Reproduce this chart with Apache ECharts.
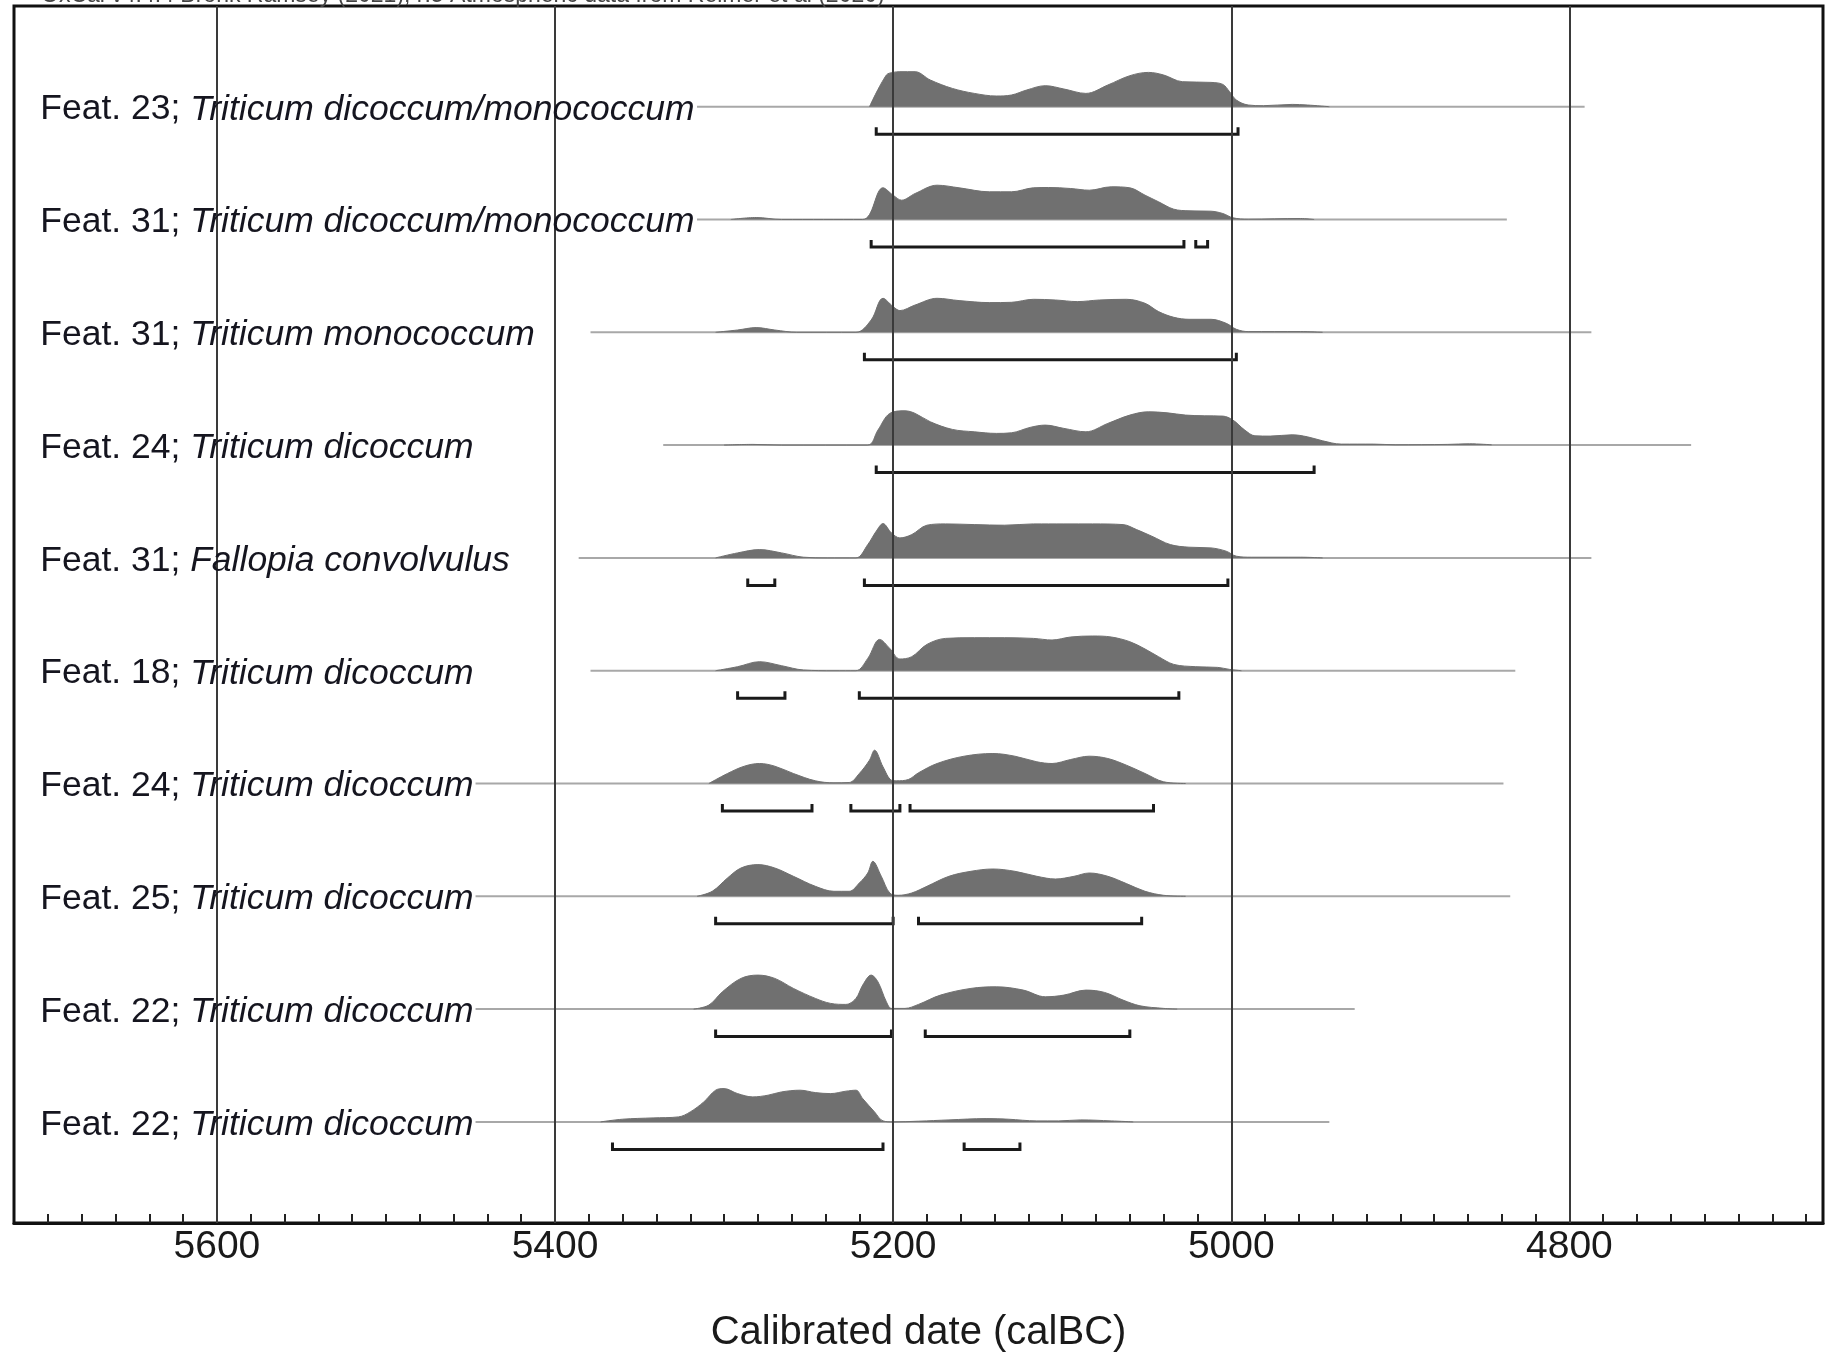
<!DOCTYPE html>
<html>
<head>
<meta charset="utf-8">
<script src="https://cdn.jsdelivr.net/npm/echarts@6/dist/echarts.min.js"></script>
<style>
html,body{margin:0;padding:0;background:#ffffff;}
#chart{width:1829px;height:1364px;}
</style>
</head>
<body>
<div id="chart"></div>
<script>
// ---------------- DATA ----------------
const featLabels = ['Feat. 23;', 'Feat. 31;', 'Feat. 31;', 'Feat. 24;', 'Feat. 31;',
                    'Feat. 18;', 'Feat. 24;', 'Feat. 25;', 'Feat. 22;', 'Feat. 22;'];
const taxa = ['Triticum dicoccum/monococcum', 'Triticum dicoccum/monococcum', 'Triticum monococcum',
              'Triticum dicoccum', 'Fallopia convolvulus', 'Triticum dicoccum', 'Triticum dicoccum',
              'Triticum dicoccum', 'Triticum dicoccum', 'Triticum dicoccum'];

// probability densities: [calBC year, relative probability]
const density1 = [[5214,0],[5204,31.7],[5200,34.3],[5196,35],[5187,35],[5178,26.7],[5165,18.3],[5152,13.3],[5139,10.7],[5130,11.7],[5121,16.7],[5110,21],[5099,17.7],[5086,13.3],[5073,21.7],[5060,31],[5049,34.3],[5040,31.7],[5029,25],[5012,24.3],[5005,22.3],[5001,15],[4997,6.7],[4990,1.7],[4981,1],[4964,2.3],[4955,1.7],[4942,0]];
const density2 = [[5296,0],[5281,2],[5266,0],[5218,0],[5206,31.7],[5200,24.3],[5195,19.3],[5187,26],[5174,34.3],[5161,31.7],[5143,27.7],[5130,27.7],[5117,31.7],[5108,32],[5095,31],[5084,29.3],[5071,32.7],[5060,31.7],[5051,24.3],[5043,17.7],[5034,10.3],[5025,8.7],[5012,8.3],[5005,6],[4999,1.7],[4990,0.3],[4959,1],[4951,0]];
const density3 = [[5305,0],[5292,2.3],[5281,4.7],[5270,2.3],[5257,0],[5222,0],[5213,12.3],[5206,34],[5200,25.7],[5196,21.7],[5187,27.3],[5174,34],[5161,31.7],[5143,29.7],[5130,30],[5117,33],[5104,32.3],[5091,30.7],[5078,32.3],[5062,33],[5051,29],[5043,20.7],[5034,15],[5025,13],[5012,13],[5003,9],[4997,3],[4990,0.7],[4959,0.7],[4946,0]];
const density4 = [[5300,0],[5283,0.7],[5266,0],[5215,0],[5209,15],[5202,31.7],[5193,34.3],[5187,31.7],[5178,23.3],[5165,15.7],[5152,13.3],[5139,11.7],[5130,12.3],[5119,17.7],[5110,20],[5099,16.7],[5086,13.3],[5073,21.7],[5060,30],[5049,33.3],[5038,32.3],[5027,30],[5016,29.3],[5005,29],[4999,25],[4992,15],[4986,9.3],[4977,9],[4964,10.3],[4955,8.3],[4946,4.3],[4935,1],[4916,1],[4903,0.3],[4872,0.7],[4859,1.3],[4846,0.3]];
const density5 = [[5305,0],[5292,5],[5279,8.3],[5266,5],[5253,0.7],[5239,0],[5222,0],[5215,13.3],[5210,26.7],[5206,34.3],[5201,25],[5196,20],[5189,23.3],[5180,32.7],[5169,34],[5152,33.3],[5134,32.7],[5117,34],[5099,34],[5082,34],[5064,33.3],[5056,28.3],[5047,21.7],[5036,13.3],[5025,10.7],[5012,10],[5003,6.7],[4997,1.7],[4988,0.7],[4959,0.7],[4946,0]];
const density6 = [[5305,0],[5292,4],[5279,9],[5266,5],[5253,0.7],[5235,0],[5222,0],[5215,12.3],[5208,31.3],[5202,22.3],[5196,11.7],[5189,14],[5180,26.3],[5169,32.3],[5152,33],[5134,33],[5117,32.3],[5106,30.7],[5095,33.7],[5082,34.7],[5071,33.7],[5060,29],[5051,21.7],[5043,14],[5034,6.3],[5021,4],[5008,3.3],[5001,1.3],[4994,0]];
const density7 = [[5309,0],[5298,10],[5288,17.3],[5279,20],[5270,17.3],[5259,10],[5246,2.7],[5235,0.7],[5226,1],[5220,10],[5214,23.3],[5211,33.3],[5206,16.7],[5201,3.3],[5198,2.7],[5191,4],[5185,10.7],[5174,20],[5158,27.3],[5141,30],[5128,27.3],[5115,21.7],[5106,20],[5095,24],[5084,27.3],[5073,25],[5062,18.3],[5051,10],[5040,1.7],[5027,0]];
const density8 = [[5316,0],[5307,5],[5298,18.3],[5290,28.3],[5280,31.7],[5270,28.3],[5259,20],[5246,10],[5235,5],[5226,5],[5220,13.3],[5215,23.3],[5212,35],[5207,20],[5202,3.3],[5197,1],[5189,3.3],[5180,10],[5167,20],[5154,25],[5141,27.3],[5128,25],[5115,20],[5104,17.3],[5093,20],[5084,23.3],[5073,20],[5062,12.7],[5051,5],[5040,1],[5027,0]];
const density9 = [[5318,0],[5309,4],[5301,17.3],[5290,30.7],[5280,34],[5270,30.7],[5259,20.7],[5246,10.7],[5237,5.7],[5228,4.7],[5222,10.7],[5218,24],[5213,34],[5209,27.3],[5204,7.3],[5201,0.7],[5193,0.7],[5185,4.7],[5172,14],[5154,20.7],[5139,22.3],[5123,19],[5110,12.3],[5099,14],[5086,19],[5075,16.7],[5064,9],[5054,3.3],[5040,0.7],[5032,0]];
const density10 = [[5373,0],[5360,2.7],[5342,4],[5327,5],[5320,10],[5312,20],[5305,31.7],[5300,33.3],[5292,28.3],[5283,25],[5274,26.7],[5266,30],[5255,31.7],[5246,29.3],[5237,28.3],[5228,30.7],[5222,31.7],[5218,23.3],[5211,10],[5206,1],[5200,0],[5185,0.7],[5167,2],[5145,3.3],[5132,2.7],[5115,1],[5102,1],[5089,2],[5071,1],[5058,0]];

// extent of each calibrated distribution's base line [from, to]
const lineRanges = [[5316,4791],[5316,4837],[5379,4787],[5336,4728],[5386,4787],
                    [5379,4832],[5447,4839],[5447,4835],[5447,4927],[5447,4942]];

// highest posterior density ranges (brackets) [from, to]
const hpdRanges = [
  [[5210,4996]],
  [[5213,5028],[5021,5014]],
  [[5217,4997]],
  [[5210,4951]],
  [[5286,5270],[5217,5002]],
  [[5292,5264],[5220,5031]],
  [[5301,5248],[5225,5196],[5190,5046]],
  [[5305,5200],[5185,5053]],
  [[5305,5201],[5181,5060]],
  [[5366,5206],[5158,5125]]
];

const tickLabels = [5600, 5400, 5200, 5000, 4800];
const axisTitle = 'Calibrated date (calBC)';
const headerText = 'OxCal v4.4.4 Bronk Ramsey (2021); r:5 Atmospheric data from Reimer et al (2020)';

// ---------------- LAYOUT ----------------
const densities = [density1, density2, density3, density4, density5,
                   density6, density7, density8, density9, density10];
const X_MIN = 4650, X_MAX = 5720;
const Y_MAX = 1217;           // 1 unit = 1 px of grid height
const ROW_TOP = 1116.3, ROW_STEP = 112.8;
const rowBase = i => ROW_TOP - i * ROW_STEP;
const LABEL_X = 5704.5;
const LABEL_DY = 3;
const BR_OFF = 27.5, BR_TICK = 7;
const FONT = '"Liberation Sans", Arial, Helvetica, sans-serif';
const minorTicks = [];
for (let v = 5700; v >= 4660; v -= 20) minorTicks.push(v);

const series = [];

// base lines
lineRanges.forEach((r, i) => {
  series.push({
    type: 'line', silent: true, symbol: 'none', z: 2,
    data: [[r[0], rowBase(i)], [r[1], rowBase(i)]],
    lineStyle: { color: '#a8a8a8', width: 2 }
  });
});

// densities
densities.forEach((d, i) => {
  const b = rowBase(i);
  series.push({
    type: 'line', silent: true, symbol: 'none', z: 3, smooth: 0.35,
    data: d.map(p => [p[0], b + p[1]]),
    lineStyle: { color: '#707070', width: 1 },
    areaStyle: { color: '#707070', opacity: 1, origin: b }
  });
});

// hpd brackets
const bracketData = [];
hpdRanges.forEach((rs, i) => rs.forEach(r => bracketData.push([r[0], r[1], rowBase(i)])));
series.push({
  type: 'custom', silent: true, z: 4,
  encode: { x: [0, 1], y: 2 },
  data: bracketData,
  renderItem: (params, api) => {
    const a = api.coord([api.value(0), api.value(2)]);
    const b = api.coord([api.value(1), api.value(2)]);
    const y = a[1] + BR_OFF;
    return {
      type: 'polyline',
      shape: { points: [[a[0], y - BR_TICK], [a[0], y], [b[0], y], [b[0], y - BR_TICK]] },
      style: { stroke: '#1a1a1a', lineWidth: 3, fill: null, lineJoin: 'miter' }
    };
  }
});

// grid lines at labelled ticks
series.push({
  type: 'line', silent: true, symbol: 'none', z: 5,
  data: [[X_MAX, 0]],
  lineStyle: { opacity: 0 },
  markLine: {
    silent: true, animation: false, symbol: ['none', 'none'],
    label: { show: false },
    lineStyle: { type: 'solid', color: '#3a3a3a', width: 2 },
    data: tickLabels.map(v => ({ xAxis: v }))
  }
});

// row labels
series.push({
  type: 'custom', silent: true, z: 6,
  encode: { x: 0, y: 1 },
  data: featLabels.map((f, i) => [LABEL_X, rowBase(i), i]),
  renderItem: (params, api) => {
    const p = api.coord([api.value(0), api.value(1)]);
    const i = api.value(2);
    return {
      type: 'text', x: p[0], y: p[1] + LABEL_DY,
      style: {
        text: '{n|' + featLabels[i] + ' }{i|' + taxa[i] + '}',
        align: 'left', verticalAlign: 'middle',
        rich: {
          n: { fontSize: 35.5, fontFamily: FONT, fontStyle: 'normal', fill: '#15151f', color: '#15151f' },
          i: { fontSize: 35.5, fontFamily: FONT, fontStyle: 'italic', fill: '#15151f', color: '#15151f' }
        }
      }
    };
  }
});

const option = {
  animation: false,
  backgroundColor: '#ffffff',
  grid: { left: 14, right: 6, top: 6, bottom: 141, show: true, borderColor: '#111111', borderWidth: 3, containLabel: false },
  xAxis: {
    type: 'value', min: X_MIN, max: X_MAX, inverse: true,
    axisLine: { show: true, onZero: false, lineStyle: { color: '#111111', width: 3 } },
    axisTick: { show: true, inside: true, length: 9, customValues: minorTicks, lineStyle: { color: '#222222', width: 2 } },
    axisLabel: { show: true, customValues: tickLabels, fontSize: 39, color: '#1a1a1a', margin: 5, fontFamily: FONT,
                 formatter: v => String(v) },
    splitLine: { show: false },
    name: axisTitle, nameLocation: 'middle', nameGap: 90,
    nameTextStyle: { fontSize: 40, color: '#1a1a1a', fontFamily: FONT }
  },
  yAxis: { type: 'value', min: 0, max: Y_MAX, show: false, splitLine: { show: false } },
  graphic: [{
    type: 'text', x: 41, y: 7, silent: true,
    style: { text: headerText, fontSize: 23, fontFamily: FONT, fill: '#444444', verticalAlign: 'bottom', align: 'left' }
  }],
  series: series
};

const chart = echarts.init(document.getElementById('chart'), null, { renderer: 'canvas' });
chart.setOption(option);
</script>
</body>
</html>
